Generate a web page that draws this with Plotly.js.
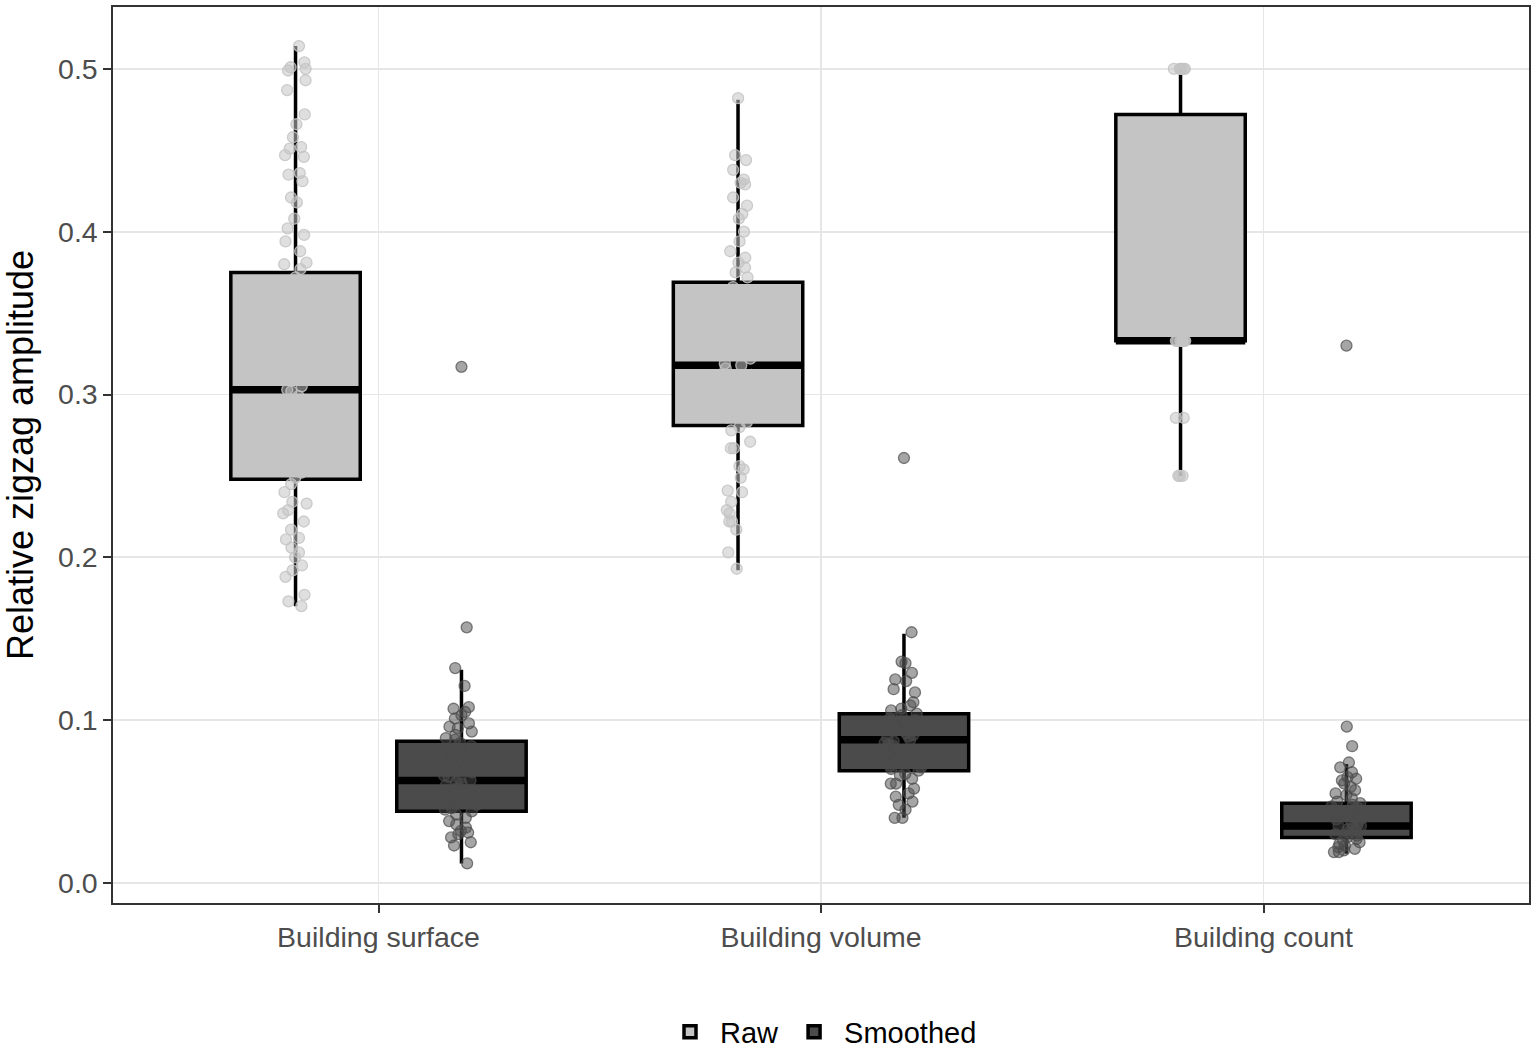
<!DOCTYPE html>
<html>
<head>
<meta charset="utf-8">
<script src="https://cdn.plot.ly/plotly-3.0.1.min.js"></script>
<style>
  html, body { margin: 0; padding: 0; background: #fff; }
  #chart { width: 1535px; height: 1063px; }
</style>
</head>
<body>
<div id="chart"></div>
<script>
var cats = ['Building surface', 'Building volume', 'Building count'];

// box statistics
var rawQ1  = [0.248, 0.281, 0.333];
var rawMed = [0.303, 0.318, 0.333];
var rawQ3  = [0.375, 0.369, 0.472];
var rawLo  = [0.170, 0.192, 0.250];
var rawHi  = [0.514, 0.481, 0.500];

var smQ1  = [0.044, 0.069, 0.028];
var smMed = [0.063, 0.088, 0.035];
var smQ3  = [0.087, 0.104, 0.049];
var smLo  = [0.012, 0.040, 0.018];
var smHi  = [0.131, 0.153, 0.073];

// jittered observations
var surfaceRaw = [0.514, 0.504, 0.501, 0.500, 0.499, 0.493, 0.487, 0.472, 0.466, 0.458, 0.452, 0.451, 0.447, 0.446,
  0.436, 0.435, 0.431, 0.421, 0.418, 0.408, 0.402, 0.398, 0.394, 0.388, 0.381, 0.380, 0.377,
  0.372, 0.368, 0.362, 0.356, 0.350, 0.345, 0.340, 0.335, 0.330, 0.326, 0.321, 0.317, 0.313, 0.309, 0.305,
  0.303, 0.302, 0.299, 0.296, 0.292, 0.289, 0.285, 0.281, 0.278, 0.274, 0.270, 0.267, 0.263, 0.260, 0.256, 0.252,
  0.249, 0.245, 0.240, 0.234, 0.233, 0.229, 0.227, 0.222, 0.217, 0.212, 0.211, 0.206, 0.203, 0.200, 0.195,
  0.192, 0.188, 0.177, 0.173, 0.170];
var volumeRaw = [0.482, 0.447, 0.444, 0.438, 0.432, 0.430, 0.429, 0.421, 0.416, 0.411, 0.408, 0.400, 0.394, 0.388,
  0.384, 0.381, 0.378, 0.375, 0.372,
  0.366, 0.361, 0.357, 0.352, 0.347, 0.343, 0.338, 0.334, 0.330, 0.326, 0.322, 0.319, 0.318, 0.316, 0.312,
  0.308, 0.304, 0.300, 0.297, 0.293, 0.290, 0.286, 0.283,
  0.280, 0.278, 0.271, 0.267, 0.267, 0.256, 0.254, 0.249, 0.241, 0.240, 0.234, 0.229, 0.227, 0.222, 0.222,
  0.217, 0.203, 0.193];
var countRaw = [0.5, 0.5, 0.5, 0.5, 0.5, 0.5, 0.444, 0.444, 0.429, 0.4, 0.4, 0.4, 0.4, 0.375,
  0.333, 0.333, 0.333, 0.333, 0.333, 0.333, 0.333, 0.333, 0.2857, 0.2857, 0.25, 0.25, 0.25];

var surfaceSm = [0.157, 0.132, 0.121, 0.108, 0.107, 0.105, 0.103, 0.101, 0.098, 0.096, 0.095, 0.093, 0.091,
  0.089, 0.088, 0.086, 0.084, 0.082, 0.080, 0.079, 0.077, 0.075, 0.074, 0.072, 0.071, 0.069, 0.068, 0.066,
  0.065, 0.064, 0.063, 0.062, 0.061, 0.060, 0.058, 0.057, 0.055, 0.054, 0.052, 0.051, 0.049, 0.048, 0.046,
  0.045, 0.044, 0.042, 0.040, 0.038, 0.036, 0.034, 0.032, 0.031, 0.030, 0.028, 0.025, 0.023, 0.012];
var volumeSm = [0.154, 0.136, 0.135, 0.129, 0.125, 0.124, 0.119, 0.117, 0.111, 0.109, 0.107, 0.106, 0.104,
  0.103, 0.101, 0.100, 0.099, 0.097, 0.096, 0.095, 0.094, 0.092, 0.091, 0.090, 0.089, 0.088, 0.087, 0.086,
  0.085, 0.084, 0.082, 0.081, 0.080, 0.079, 0.078, 0.076, 0.075, 0.074, 0.072, 0.071, 0.070, 0.069, 0.067,
  0.066, 0.064, 0.061, 0.061, 0.058, 0.055, 0.053, 0.050, 0.048, 0.045, 0.040, 0.040];
var countSm = [0.096, 0.084, 0.074, 0.071, 0.068, 0.065, 0.064, 0.063, 0.061, 0.059, 0.057, 0.055, 0.054,
  0.052, 0.050, 0.049, 0.048, 0.047, 0.046, 0.045, 0.044, 0.043, 0.042, 0.041, 0.040, 0.039, 0.038, 0.037,
  0.036, 0.035, 0.035, 0.034, 0.033, 0.032, 0.031, 0.030, 0.029, 0.028, 0.027, 0.026, 0.025, 0.024, 0.023,
  0.022, 0.021, 0.020, 0.019, 0.019];

var smOutliers = [0.317, 0.261, 0.330];

var rawFill = '#c4c4c4';
var smFill = '#4b4b4b';
var font = 'Liberation Sans, Arial, sans-serif';

function repeatCats(lists) {
  var xs = [], ys = [];
  lists.forEach(function(l, i) {
    l.forEach(function(v) { xs.push(cats[i]); ys.push(v); });
  });
  return {x: xs, y: ys};
}

function statBox(name, q1, med, q3, lo, hi, fill, legend) {
  return {
    type: 'box', name: name, offsetgroup: name, legendgroup: name, showlegend: legend,
    x: cats, q1: q1, median: med, q3: q3, lowerfence: lo, upperfence: hi,
    boxpoints: false, whiskerwidth: 0,
    fillcolor: fill, line: {color: '#000', width: 3.5}, hoverinfo: 'skip'
  };
}

function medianBar(name, med) {
  return {
    type: 'box', name: name, offsetgroup: name, legendgroup: name, showlegend: false,
    x: cats, q1: med, median: med, q3: med, lowerfence: med, upperfence: med,
    boxpoints: false, whiskerwidth: 0,
    fillcolor: 'rgba(0,0,0,0)', line: {color: '#000', width: 7.5}, hoverinfo: 'skip'
  };
}

function pointBox(name, xy, jitter, mcolor, lcolor) {
  return {
    type: 'box', name: name, offsetgroup: name, legendgroup: name, showlegend: false,
    x: xy.x, y: xy.y, boxpoints: 'all', jitter: jitter, pointpos: 0, whiskerwidth: 0,
    fillcolor: 'rgba(0,0,0,0)', line: {color: 'rgba(0,0,0,0)', width: 0},
    marker: {size: 11, color: mcolor, line: {color: lcolor, width: 1.3}},
    hoverinfo: 'skip'
  };
}

var rawPts = repeatCats([surfaceRaw, volumeRaw, countRaw]);
var smPts = repeatCats([surfaceSm, volumeSm, countSm]);
var smOut = {x: cats, y: smOutliers};

var data = [
  statBox('Raw', rawQ1, rawMed, rawQ3, rawLo, rawHi, rawFill, true),
  statBox('Smoothed', smQ1, smMed, smQ3, smLo, smHi, smFill, true),
  medianBar('Raw', rawMed),
  medianBar('Smoothed', smMed),
  pointBox('Raw', rawPts, 0.22, 'rgba(196,196,196,0.55)', 'rgba(196,196,196,0.85)'),
  pointBox('Smoothed', smPts, 0.3, 'rgba(75,75,75,0.5)', 'rgba(75,75,75,0.7)'),
  pointBox('Smoothed', smOut, 0, 'rgba(75,75,75,0.5)', 'rgba(75,75,75,0.7)')
];

var layout = {
  width: 1535,
  height: 1063,
  margin: {l: 113, r: 6, t: 7, b: 160},
  paper_bgcolor: '#fff',
  plot_bgcolor: '#fff',
  boxmode: 'group',
  boxgap: 0.25,
  boxgroupgap: 0.22,
  hovermode: false,
  font: {family: font, color: '#000'},
  xaxis: {
    type: 'category',
    categoryorder: 'array', categoryarray: cats,
    range: [-0.6, 2.6],
    showgrid: true, gridcolor: '#e6e6e6', gridwidth: 1.8,
    showline: true, mirror: true, linecolor: '#333', linewidth: 1.6,
    ticks: 'outside', ticklen: 8, tickwidth: 2, tickcolor: '#333',
    tickfont: {family: font, size: 28.5, color: '#4d4d4d'},
    zeroline: false
  },
  yaxis: {
    range: [-0.0123, 0.538],
    tickvals: [0, 0.1, 0.2, 0.3, 0.4, 0.5],
    ticktext: ['0.0', '0.1', '0.2', '0.3', '0.4', '0.5'],
    showgrid: true, gridcolor: '#e6e6e6', gridwidth: 1.8,
    showline: true, mirror: true, linecolor: '#333', linewidth: 1.6,
    ticks: 'outside', ticklen: 8, tickwidth: 2, tickcolor: '#333',
    tickfont: {family: font, size: 28.5, color: '#4d4d4d'},
    zeroline: false,
    title: {text: 'Relative zigzag amplitude', font: {family: font, size: 36, color: '#000'}, standoff: 14}
  },
  showlegend: true,
  legend: {
    orientation: 'h',
    x: 0.5, xanchor: 'center',
    y: -0.144, yanchor: 'middle',
    font: {family: font, size: 29, color: '#000'},
    itemwidth: 50,
    traceorder: 'normal'
  }
};

Plotly.newPlot('chart', data, layout, {displayModeBar: false, staticPlot: true});
</script>
</body>
</html>
